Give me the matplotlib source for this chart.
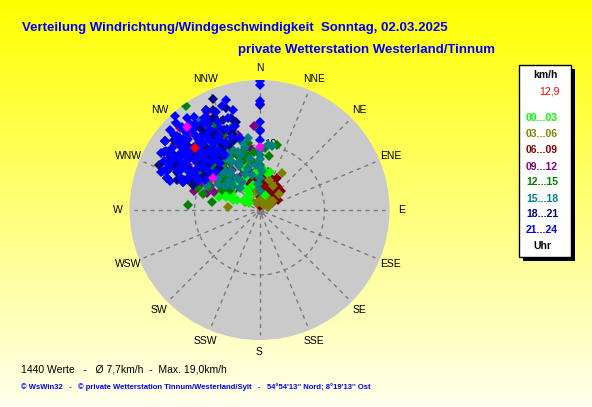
import numpy as np
import matplotlib.pyplot as plt
from matplotlib.patches import Rectangle

W, H = 592, 407

# wind direction (deg, clockwise from N) and speed (km/h) per 3-hour block
DIR_00_03 = [290, 295, 300, 305, 320, 325, 330, 292, 298, 309, 314, 319, 326, 296, 304, 312, 335,
             345, 355, 3, 11, 15, 20, 300, 288, 318, 340]
SPD_00_03 = [4.4, 3.8, 4.8, 1.9, 5.0, 4.2, 3.6, 5.5, 6.0, 2.8, 5.3, 4.7, 3.0, 5.6, 5.2, 6.0, 5.4,
             4.0, 5.8, 6.5, 5.8, 6.0, 2.5, 2.8, 6.5, 2.5, 6.8]

DIR_03_06 = [31, 50, 275, 287, 347, 20, 35, 45, 60, 10, 0, 340, 55, 15, 30, 70, 300, 320, 350, 18, 28]
SPD_03_06 = [6.6, 3.9, 4.9, 8.9, 7.1, 1.5, 2.2, 1.0, 1.8, 1.2, 1.5, 1.1, 2.5, 2.4, 4.2, 1.4, 2.5,
             2.0, 2.8, 4.8, 1.0]

DIR_06_09 = [0, 5, 10, 15, 20, 25, 30, 35, 40, 45, 50, 55, 60, 345, 350, 355, 0, 5, 10, 15, 20, 25, 30, 35, 40,
             45, 8, 12, 18, 22, 28, 3, 358, 352, 340, 335, 62, 48, 33, 17, 7, 13, 23, 38, 2]
SPD_06_09 = [5.4, 4.8, 3.9, 4.6, 5.2, 4.0, 3.4, 2.8, 3.9, 3.0, 3.3, 2.5, 3.2, 4.7, 3.6, 2.8, 2.0, 1.5, 2.2, 1.8,
             2.6, 1.2, 2.0, 4.6, 2.4, 1.6, 3.0, 6.0, 3.4, 5.0, 5.6, 4.0, 5.0, 5.8, 4.2, 3.6, 2.2, 4.4, 2.8, 1.0,
             0.6, 5.2, 3.6, 1.4, 3.2]

DIR_09_12 = [295, 332, 293, 298, 344, 346, 305, 300, 310, 315, 320, 325, 330, 290, 302, 308, 312, 318, 322, 328,
             335, 340, 296, 304, 314, 324, 334, 300, 306, 316, 326, 286, 292, 338, 310, 319, 301, 311, 321, 331,
             297, 307, 317, 288, 352, 356, 303, 309, 314, 318, 323, 327, 299, 294, 312, 320, 308, 316, 300, 325, 332]
SPD_09_12 = [15.2, 17.1, 9.9, 6.5, 12.0, 6.0, 8.0, 11.0, 10.5, 9.0, 8.5, 7.5, 9.5, 12.5, 13.0, 7.0, 12.5, 11.5,
             6.5, 10.5, 8.0, 9.0, 8.5, 9.5, 7.5, 11.0, 12.5, 14.0, 10.0, 13.5, 13.0, 10.5, 7.5, 7.0, 15.5, 14.5,
             5.5, 5.0, 10.0, 6.0, 11.5, 12.0, 16.0, 8.5, 9.5, 13.0, 7.0, 8.5, 6.0, 9.5, 7.5, 11.5, 10.0, 11.0,
             14.0, 12.5, 16.5, 17.5, 16.0, 15.5, 14.0]

DIR_12_15 = [325, 274, 280, 337, 0, 0, 15, 305, 310, 315, 320, 325, 330, 335, 340, 345, 350, 300, 295, 290,
             312, 318, 322, 328, 333, 338, 343, 308, 302, 316, 326, 332, 342, 348, 352, 355, 5, 10, 298, 304,
             286, 313, 306, 311, 317, 321, 327, 331, 336, 341, 303, 299]
SPD_12_15 = [19.6, 11.0, 7.4, 11.7, 6.9, 4.9, 10.4, 8.0, 9.5, 10.0, 11.0, 12.0, 12.5, 13.0, 11.5, 9.5, 10.5,
             9.0, 8.5, 10.0, 7.0, 8.0, 9.0, 8.5, 10.5, 9.0, 8.0, 12.0, 11.5, 13.5, 14.5, 15.0, 13.5, 8.5, 7.5,
             9.0, 9.5, 8.5, 6.5, 5.5, 9.0, 6.0, 6.5, 7.5, 9.0, 10.0, 11.0, 9.5, 10.0, 12.5, 10.5, 11.5]

DIR_15_18 = [351, 345, 0, 0, 0, 0, 0, 0, 7, 11, 295, 300, 305, 310, 315, 320, 325, 330, 335, 340, 310, 315,
             320, 325, 330, 335, 340, 345, 350, 355, 305, 312, 318, 328, 338, 348, 356, 4, 300, 322, 326,
             302, 307, 313, 318, 324, 329, 333, 337, 342, 347]
SPD_15_18 = [11.2, 6.7, 9.2, 8.5, 7.8, 6.6, 5.0, 3.0, 10.1, 10.0, 8.9, 9.5, 10.5, 9.0, 8.0, 7.0, 6.0, 8.5, 7.5,
             9.5, 11.5, 12.0, 10.5, 9.5, 11.0, 10.5, 12.5, 11.0, 8.0, 7.0, 6.5, 5.5, 4.5, 5.0, 6.0, 5.5, 4.0,
             6.0, 12.5, 13.0, 16.5, 7.5, 8.0, 6.5, 8.5, 7.5, 9.5, 10.0, 8.0, 9.0, 10.0]

DIR_18_21 = [301, 291, 340, 331, 0, 0, 295, 300, 305, 310, 315, 320, 325, 330, 335, 340, 345, 290, 298, 306,
             312, 318, 324, 332, 338, 296, 304, 316, 322, 328, 309, 314, 327, 342, 293, 302, 319, 336, 311, 306,
             337, 343, 297, 303, 308, 313, 317, 321, 326, 330, 334, 289, 294, 300, 307, 315, 323, 329, 335, 341,
             292, 312]
SPD_18_21 = [17.2, 10.9, 11.4, 15.8, 16.2, 12.3, 14.0, 12.5, 15.0, 13.5, 11.5, 12.0, 14.5, 13.0, 11.0, 12.5,
             14.0, 13.5, 16.0, 11.0, 16.5, 17.0, 15.5, 17.5, 15.0, 11.5, 9.5, 9.0, 10.0, 11.0, 17.0, 14.0, 16.0,
             16.5, 12.0, 10.0, 13.0, 13.5, 10.5, 18.0, 18.5, 14.8, 15.0, 16.0, 13.0, 15.5, 12.5, 16.5, 13.5,
             11.5, 16.0, 15.0, 17.0, 14.5, 11.5, 13.0, 12.0, 14.0, 17.0, 13.0, 12.5, 15.0]

DIR_21_24 = [0, 0, 0, 0, 0, 0, 0, 318, 325, 330, 312, 305, 300, 296, 292, 290, 300, 305, 310, 315, 320, 322,
             316, 308, 312, 318, 325, 330, 328, 335, 338, 310, 303, 298, 295, 307, 315, 320, 326, 333, 300, 312,
             322, 340, 345, 310, 318, 306, 294, 288, 299, 311, 320, 328, 292, 290, 329, 343, 345, 314, 304, 317,
             323, 309, 301, 293, 297, 302, 306, 311, 316, 321, 327, 332, 336, 341, 295, 299, 304, 309, 313, 319,
             324, 331, 289, 291, 297, 303, 314, 318, 326, 334, 339, 344, 308, 302, 296, 317, 313, 323, 329, 306,
             311, 300, 320]
SPD_21_24 = [19.8, 19.2, 16.8, 16.3, 13.5, 12.2, 10.8, 19.5, 17.5, 16.5, 17.0, 16.5, 15.5, 14.0, 13.0, 12.5,
             13.0, 14.5, 15.0, 15.5, 16.0, 14.5, 13.5, 12.5, 11.5, 12.0, 13.0, 12.5, 14.5, 15.0, 13.5, 14.0,
             11.5, 11.0, 10.5, 10.0, 10.5, 11.0, 11.0, 11.5, 17.5, 18.5, 18.0, 17.0, 16.0, 16.5, 14.0, 13.5,
             15.5, 14.5, 9.5, 9.0, 9.5, 10.0, 16.0, 12.6, 16.5, 17.7, 11.5, 13.0, 15.0, 16.5, 12.0, 15.5, 14.0,
             15.5, 16.5, 17.0, 18.0, 17.5, 18.5, 17.0, 16.0, 17.5, 16.5, 15.0, 12.0, 12.5, 13.5, 14.5, 16.0,
             15.0, 14.0, 13.0, 15.0, 16.2, 13.5, 15.0, 12.0, 10.5, 12.5, 14.0, 12.0, 13.5, 11.0, 16.0, 15.5,
             17.5, 14.0, 16.5, 15.5, 18.0, 12.5, 12.0, 13.5]

DIR_OTHER = [0, 319, 305]
SPD_OTHER = [9.7, 16.9, 8.7]

DIR_NOW = [314]
SPD_NOW = [13.8]
NOW_LABEL = '12,9'

GROUP_LABELS = ['00...03', '03...06', '06...09', '09...12', '12...15', '15...18', '18...21', '21...24']
GROUP_COLORS = ['#00FF00', '#808000', '#800000', '#800080', '#008000', '#008080', '#000080', '#0000FF']
GROUP_DIRS = [DIR_00_03, DIR_03_06, DIR_06_09, DIR_09_12, DIR_12_15, DIR_15_18, DIR_18_21, DIR_21_24]
GROUP_SPDS = [SPD_00_03, SPD_03_06, SPD_06_09, SPD_09_12, SPD_12_15, SPD_15_18, SPD_18_21, SPD_21_24]
# stacking order of the blocks on the disk
DRAW_ORDER = [2, 1, 3, 0, 4, 5, 6, 7]

COMPASS = ['N', 'NNE', 'NE', 'ENE', 'E', 'ESE', 'SE', 'SSE', 'S', 'SSW', 'SW', 'WSW', 'W', 'WNW', 'NW', 'NNW']
R_MAX = 20

TITLE = 'Verteilung Windrichtung/Windgeschwindigkeit  Sonntag, 02.03.2025'
SUBTITLE = 'private Wetterstation Westerland/Tinnum'
STATS = '1440 Werte   -   Ø 7,7km/h  -  Max. 19,0km/h'
FOOTER = "© WsWin32   -   © private Wetterstation Tinnum/Westerland/Sylt   -   54°54'13'' Nord; 8°19'13'' Ost"

plt.rcParams['font.family'] = ['Liberation Sans', 'DejaVu Sans']


def fx(x):
    return x / W


def fy(y):
    return 1 - y / H


fig = plt.figure(figsize=(W / 100, H / 100), dpi=100)

# yellow background fading to pale at the bottom
bg = fig.add_axes([0, 0, 1, 1])
bg.axis('off')
t = np.linspace(0, 1, 256)[:, None]
img = np.dstack([np.ones_like(t), np.ones_like(t), t * 0.93])
bg.imshow(img, aspect='auto', extent=[0, 1, 0, 1], origin='upper')

# polar disk: centre (259.5, 210), radius 130 px
cx, cy, rad = 259.5, 210, 130
ax = fig.add_axes([fx(cx - rad), fy(cy + rad), 2 * rad / W, 2 * rad / H], projection='polar')
ax.set_theta_zero_location('N')
ax.set_theta_direction(-1)
ax.set_ylim(0, R_MAX)
ax.set_facecolor('#CACACA')
ax.grid(False)
ax.set_xticks([])
ax.set_yticks([])
ax.spines['polar'].set_visible(False)

angles = np.radians(np.arange(16) * 22.5)
for a in angles:
    ax.plot([a, a], [0.8, 19.3], color='#7a7a7a', lw=1, dashes=(3, 3), zorder=1)
circ = np.linspace(0, 2 * np.pi, 300)
ax.plot(circ, np.full_like(circ, 10), color='#7a7a7a', lw=1, dashes=(3, 3), zorder=1)
ax.plot([0], [0], 's', color='#808080', ms=4, zorder=1)

for name, a in zip(COMPASS, angles):
    ax.text(a, 21.8, name, ha='center', va='center', fontsize=7.5, clip_on=False)
ax.annotate('10', (0, 10), xytext=(7.5, 0.5), textcoords='offset points',
            ha='center', va='center', fontsize=8)

for i in DRAW_ORDER:
    ax.plot(np.radians(GROUP_DIRS[i]), GROUP_SPDS[i], 'D', ms=4.6, mew=0, color=GROUP_COLORS[i],
            linestyle='none', zorder=3)
ax.plot(np.radians(DIR_OTHER), SPD_OTHER, 'D', ms=4.6, mew=0, color='#FF00FF', linestyle='none', zorder=3)
ax.plot(np.radians(DIR_NOW), SPD_NOW, 'D', ms=4.6, mew=0, color='#FF0000', linestyle='none', zorder=4)

# titles
fig.text(fx(22), fy(31), TITLE, color='#0000FF', fontsize=9.5, fontweight='bold', va='baseline')
fig.text(fx(238), fy(53), SUBTITLE, color='#0000FF', fontsize=9.5, fontweight='bold', va='baseline')

# legend box with shadow
lx0, ly0, lx1, ly1 = 519, 65, 571, 257
fig.add_artist(Rectangle((fx(lx0 + 4), fy(ly1 + 4)), (lx1 - lx0) / W, (ly1 - ly0) / H,
                         transform=fig.transFigure, facecolor='black', edgecolor='none'))
fig.add_artist(Rectangle((fx(lx0), fy(ly1)), (lx1 - lx0) / W, (ly1 - ly0) / H,
                         transform=fig.transFigure, facecolor='white', edgecolor='black', lw=1))
fig.text(fx(545), fy(75), 'km/h', fontsize=7.5, fontweight='bold', ha='center', va='center')
fig.text(fx(560), fy(92), NOW_LABEL, fontsize=7.5, color='#FF0000', ha='right', va='center')
ys = [118, 134, 150, 166.5, 182.5, 198.5, 214.5, 230]
for lab, col, y in zip(GROUP_LABELS, GROUP_COLORS, ys):
    fig.text(fx(542), fy(y), lab, fontsize=7.5, fontweight='bold', color=col, ha='center', va='center')
fig.text(fx(542), fy(246), 'Uhr', fontsize=7.5, fontweight='bold', ha='center', va='center')

# footer
fig.text(fx(21), fy(370), STATS, fontsize=7.5, va='center')
fig.text(fx(21), fy(387), FOOTER, fontsize=5.5, fontweight='bold', color='#0000FF', va='center')

fig.savefig('out.png', dpi=100)
